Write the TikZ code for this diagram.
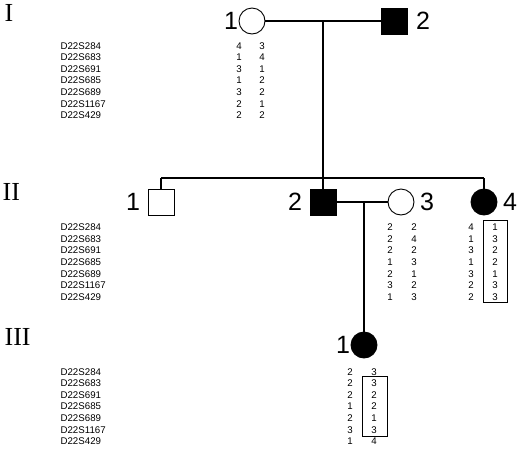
\documentclass[tikz,border=0pt]{standalone}
\usepackage{fontspec}
\setmainfont{Liberation Sans}
\newfontfamily\genfont{Liberation Serif}
\usetikzlibrary{positioning}

\tikzset{
  male/.style={draw,line width=0.9pt,minimum size=26pt,inner sep=0pt},
  female/.style={draw,circle,line width=0.9pt,minimum size=26pt,inner sep=0pt},
  ill/.style={fill=black},
  idlbl/.style={font=\fontsize{25}{25}\selectfont,inner sep=0pt},
  gen/.style={font=\genfont\fontsize{26}{26}\selectfont,inner sep=0pt,anchor=base west},
  mk/.style={font=\fontsize{9.7}{10}\selectfont,inner sep=0pt,anchor=west},
  al/.style={font=\fontsize{9.7}{10}\selectfont,inner sep=0pt},
  hapbox/.style={draw,line width=0.7pt},
}

\begin{document}
\begin{tikzpicture}[x=1pt,y=-1pt,line width=1.2pt]
\useasboundingbox (0,0) rectangle (520,448);

% generations
\node[gen] (gI) at (4,21) {I};
\node[gen] (gII) at (2,200) {II};
\node[gen] (gIII) at (4,345) {III};

% individuals
\node[female] (I1) at (252,21) {};
\node[male,ill] (I2) at (394,21) {};
\node[male] (II1) at (161,202) {};
\node[male,ill] (II2) at (323,202) {};
\node[female] (II3) at (401,202) {};
\node[female,ill] (II4) at (484,202) {};
\node[female,ill] (III1) at (364,345) {};

\node[idlbl,left=0pt of I1] (lI1) {1};
\node[idlbl,right=8pt of I2] (lI2) {2};
\node[idlbl,left=7pt of II1] (lII1) {1};
\node[idlbl,left=7pt of II2] (lII2) {2};
\node[idlbl,right=5pt of II3] (lII3) {3};
\node[idlbl,right=5pt of II4] (lII4) {4};
\node[idlbl,left=0pt of III1] (lIII1) {1};

% lines of descent
\coordinate (m1) at (323,21);
\coordinate (sL) at (161,178);
\coordinate (sR) at (484,178);
\coordinate (m2) at (364,202);
\draw (I1) -- (I2);
\draw (m1) -- (II2);
\draw (sL) -- (sR);
\draw (sL) -- (II1);
\draw (sR) -- (II4);
\draw (II2) -- (II3);
\draw (m2) -- (III1);

% markers
\foreach \y in {45.7,227.3,371.7}{
  \foreach \m [count=\i from 0] in {D22S284,D22S683,D22S691,D22S685,D22S689,D22S1167,D22S429}
    \node[mk] (mk\i) at (60,\y+11.6*\i) {\m};
}

% haplotypes
\foreach \a/\b [count=\i from 0] in {4/3,1/4,3/1,1/2,3/2,2/1,2/2}{
  \node[al] (hI1a\i) at (239,45.7+11.6*\i) {\a};
  \node[al] (hI1b\i) at (262,45.7+11.6*\i) {\b};
}
\foreach \a/\b [count=\i from 0] in {2/2,2/4,2/2,1/3,2/1,3/2,1/3}{
  \node[al] (hII3a\i) at (390,227.3+11.6*\i) {\a};
  \node[al] (hII3b\i) at (414,227.3+11.6*\i) {\b};
}
\foreach \a/\b [count=\i from 0] in {4/1,1/3,3/2,1/2,3/1,2/3,2/3}{
  \node[al] (hII4a\i) at (471,227.3+11.6*\i) {\a};
  \node[al] (hII4b\i) at (495,227.3+11.6*\i) {\b};
}
\foreach \a/\b [count=\i from 0] in {2/3,2/3,2/2,1/2,2/1,3/3,1/4}{
  \node[al] (hIII1a\i) at (350,371.7+11.6*\i) {\a};
  \node[al] (hIII1b\i) at (374,371.7+11.6*\i) {\b};
}
\draw[hapbox] (483,220) rectangle (507,302);
\draw[hapbox] (362,376) rectangle (387,436);
\end{tikzpicture}
\end{document}
